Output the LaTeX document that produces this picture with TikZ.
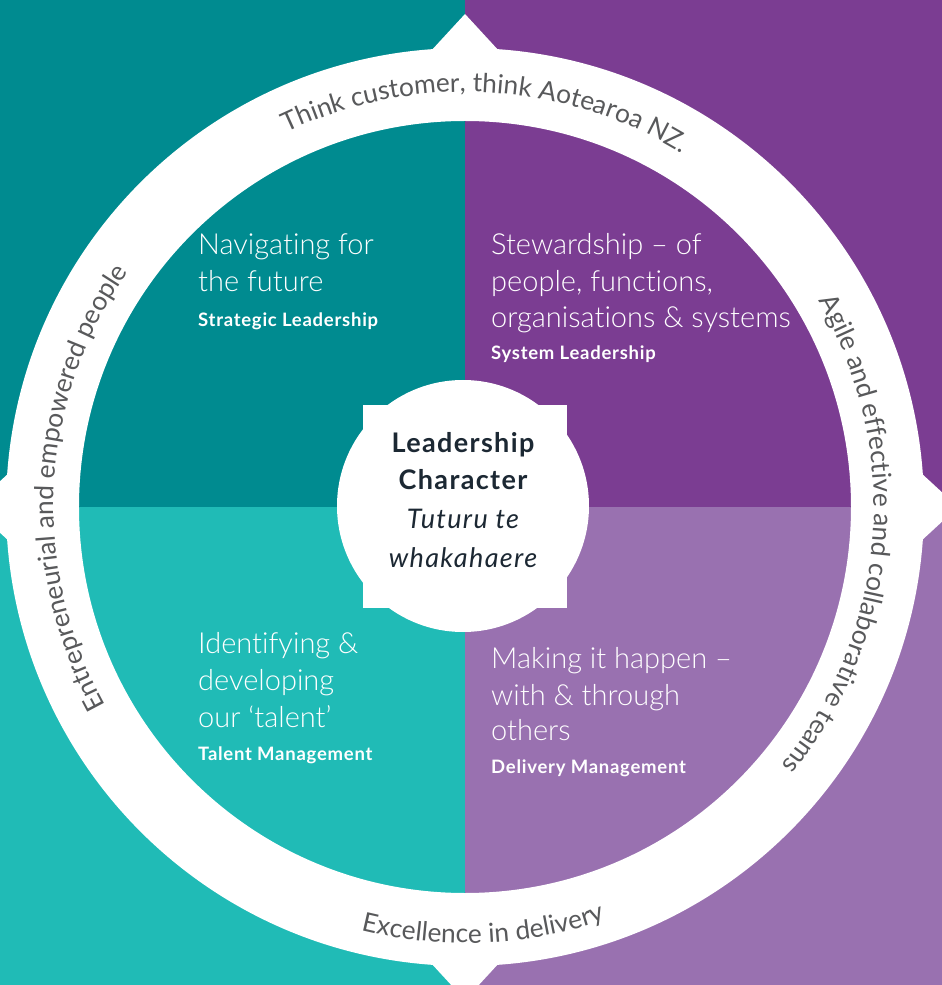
\documentclass[tikz,border=0pt]{standalone}
\usepackage{fontspec}
\setmainfont{Lato}
\newfontfamily\lightfont{Lato Light}[Ligatures=NoCommon]
\newfontfamily\widefont{Lato}[LetterSpace=5]
\newfontfamily\subfont{Lato}[LetterSpace=4]
\usetikzlibrary{decorations.text}
\definecolor{tealdark}{HTML}{008B90}
\definecolor{teallight}{HTML}{20BBB6}
\definecolor{purpledark}{HTML}{7B3D92}
\definecolor{purplelight}{HTML}{9971B0}
\definecolor{ringtext}{HTML}{58595B}
\definecolor{centertext}{HTML}{1C2833}
\tikzset{
  quadtext/.style={anchor=base west, inner sep=0pt, text=white, font=\lightfont\fontsize{29}{29}\selectfont},
  quadsub/.style={anchor=base west, inner sep=0pt, text=white, font=\subfont\bfseries\fontsize{18.5}{18.5}\selectfont},
  centerbold/.style={anchor=base, inner sep=0pt, text=centertext, font=\widefont\bfseries\fontsize{27}{27}\selectfont},
  centerital/.style={anchor=base, inner sep=0pt, text=centertext, font=\widefont\itshape\fontsize{27}{27}\selectfont},
  ringlabel/.style={decorate, decoration={text along path, text align=center, text={#1}}}
}
\begin{document}
\begin{tikzpicture}[x=1pt,y=1pt]
\useasboundingbox (-465,-478) rectangle (477,507);
% quadrants
\fill[tealdark] (-465,0) rectangle (0,507);
\fill[purpledark] (0,0) rectangle (477,507);
\fill[teallight] (-465,-478) rectangle (0,0);
\fill[purplelight] (0,-478) rectangle (477,0);
% ring
\fill[white,even odd rule] (0,0) circle[radius=459] (0,0) circle[radius=386];
\fill[white] (-35,455) -- (0,493) -- (35,455) -- cycle;
\fill[white] (-35,-455) -- (0,-493) -- (35,-455) -- cycle;
\fill[white] (455,-35) -- (493,0) -- (455,35) -- cycle;
\fill[white] (-455,-35) -- (-493,0) -- (-455,35) -- cycle;
% ring texts
\path[ringlabel={|\fontsize{26.3}{26.3}\selectfont\color{ringtext}|Think customer, think Aotearoa NZ.}]
  (147:415) arc[start angle=147,end angle=27,radius=415];
\path[ringlabel={|\fontsize{26.3}{26.3}\selectfont\color{ringtext}|Entrepreneurial and empowered people}]
  (237:411) arc[start angle=237,end angle=117,radius=411];
\path[ringlabel={|\fontsize{26.3}{26.3}\selectfont\color{ringtext}|Agile and effective and collaborative teams}]
  (55.5:409) arc[start angle=55.5,end angle=-64.5,radius=409];
\path[ringlabel={|\fontsize{26.3}{26.3}\selectfont\color{ringtext}|Excellence in delivery}]
  (212.5:436) arc[start angle=212.5,end angle=332.5,radius=436];
% centre
\fill[white] (-2,1) circle[radius=126];
\fill[white] (-102,-101) rectangle (102,102);
\node[centerbold] (c1) at (-2,54) {Leadership};
\node[centerbold] (c2) at (-2,17) {Character};
\node[centerital] (c3) at (-2,-21) {Tuturu te};
\node[centerital] (c4) at (-2,-60) {whakahaere};
% top left
\node[quadtext] (tl1) at (-267,252) {Navigating for};
\node[quadtext] (tl2) at (-267,215) {the future};
\node[quadsub] (tl3) at (-267,180) {Strategic Leadership};
% top right
\node[quadtext] (tr1) at (26,252) {Stewardship – of};
\node[quadtext] (tr2) at (26,215) {people, functions,};
\node[quadtext] (tr3) at (26,179) {organisations \& systems};
\node[quadsub] (tr4) at (26,147) {System Leadership};
% bottom left
\node[quadtext] (bl1) at (-267,-146) {Identifying \&};
\node[quadtext] (bl2) at (-267,-183) {developing};
\node[quadtext] (bl3) at (-267,-220) {our ‘talent’};
\node[quadsub] (bl4) at (-267,-253) {Talent Management};
% bottom right
\node[quadtext] (br1) at (26,-161) {Making it happen –};
\node[quadtext] (br2) at (26,-198) {with \& through};
\node[quadtext] (br3) at (26,-233) {others};
\node[quadsub] (br4) at (26,-266) {Delivery Management};
\end{tikzpicture}
\end{document}
